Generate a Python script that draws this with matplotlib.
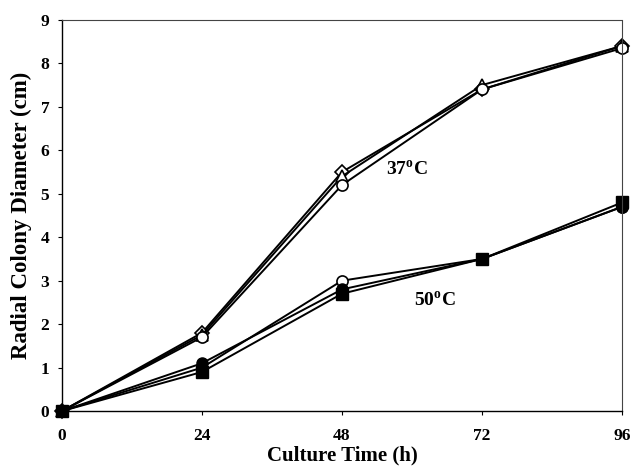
import matplotlib
matplotlib.use("Agg")
import matplotlib.pyplot as plt

plt.rcParams['font.family'] = ['Liberation Serif', 'DejaVu Serif']
plt.rcParams['font.weight'] = 'bold'

time_h = [0, 24, 48, 72, 96]

# 37 C series
c37_diamond = [0, 1.8, 5.5, 7.4, 8.4]
c37_triangle = [0, 1.75, 5.4, 7.5, 8.4]
c37_circle = [0, 1.7, 5.2, 7.4, 8.35]

# 50 C series
c50_circle_open = [0, 1.0, 3.0, 3.5, 4.7]
c50_circle_filled = [0, 1.1, 2.8, 3.5, 4.7]
c50_square = [0, 0.9, 2.7, 3.5, 4.8]

xticks = [0, 24, 48, 72, 96]
yticks = list(range(0, 10))

fig = plt.figure(figsize=(6.31, 4.72), dpi=100)
ax = fig.add_axes([0.098, 0.129, 0.888, 0.829])

lw = 1.4
ms = 8
ax.plot(time_h, c37_diamond, color='black', lw=lw, marker='D', ms=7, mfc='white', mec='black', mew=1.2, clip_on=False)
ax.plot(time_h, c37_triangle, color='black', lw=lw, marker='^', ms=ms, mfc='white', mec='black', mew=1.2, clip_on=False)
ax.plot(time_h, c37_circle, color='black', lw=lw, marker='o', ms=ms, mfc='white', mec='black', mew=1.2, clip_on=False)

ax.plot(time_h, c50_circle_open, color='black', lw=lw, marker='o', ms=ms, mfc='white', mec='black', mew=1.2, clip_on=False)
ax.plot(time_h, c50_circle_filled, color='black', lw=lw, marker='o', ms=ms, mfc='black', mec='black', clip_on=False)
ax.plot(time_h, c50_square, color='black', lw=lw, marker='s', ms=ms, mfc='black', mec='black', clip_on=False)

ax.set_xlim(0, 96)
ax.set_ylim(0, 9)
ax.set_xticks(xticks)
ax.set_yticks(yticks)
ax.tick_params(axis='both', labelsize=12.5, direction='out', length=3, width=0.8)
ax.tick_params(axis='x', pad=9)
ax.tick_params(axis='y', pad=6)
for lab in ax.get_xticklabels() + ax.get_yticklabels():
    lab.set_fontweight('bold')

for s in ['left', 'bottom']:
    ax.spines[s].set_linewidth(1.0)
for s in ['top', 'right']:
    ax.spines[s].set_linewidth(0.8)
    ax.spines[s].set_linestyle((0, (1, 1)))
    ax.spines[s].set_color('#444444')

ax.set_xlabel('Culture Time (h)', fontsize=15, fontweight='bold', labelpad=1)
ax.set_ylabel('Radial Colony Diameter (cm)', fontsize=16.5, fontweight='bold', labelpad=6)

ax.text(55.5, 5.55, r'37$^{\mathregular{o}}$C', fontsize=14, fontweight='bold', va='center', ha='left')
ax.text(60.3, 2.55, r'50$^{\mathregular{o}}$C', fontsize=14, fontweight='bold', va='center', ha='left')

fig.savefig('out.png', dpi=100)
